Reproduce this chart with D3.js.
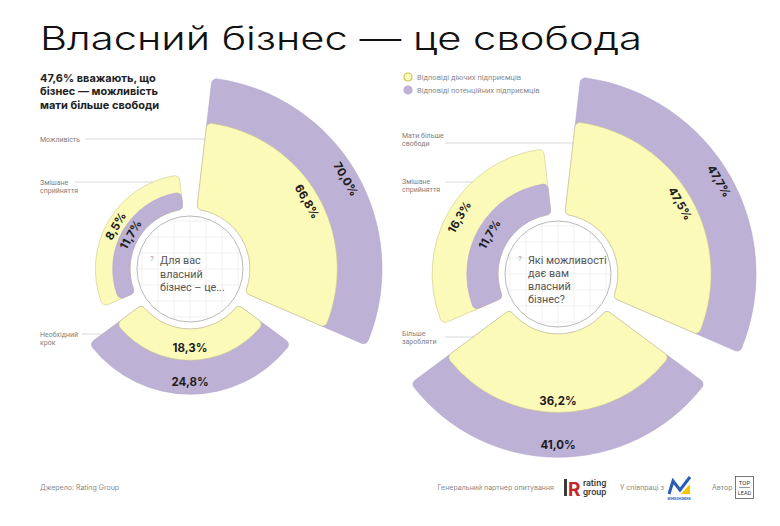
<!DOCTYPE html>
<html lang="uk">
<head>
<meta charset="utf-8">
<title>Власний бізнес — це свобода</title>
<script src="https://cdn.jsdelivr.net/npm/d3@7"></script>
<style>
  body { margin: 0; background: #fff; }
  text { font-family: Inter, "Noto Sans", sans-serif; }
</style>
</head>
<body>
<div id="container"></div>
<script>
// data
const leftCategories = ["Можливість", "Необхідний крок", "Змішане сприйняття"];
const leftActive = [66.8, 18.3, 8.5];
const leftPotential = [70.0, 24.8, 11.7];
const leftInner = ["active", "active", "potential"];   // which series sits next to the centre

const rightCategories = ["Мати більше свободи", "Більше заробляти", "Змішане сприйняття"];
const rightActive = [47.5, 36.2, 16.3];
const rightPotential = [47.7, 41.0, 11.7];
const rightInner = ["active", "active", "potential"];

const seriesKeys = ["active", "potential"];
const seriesNames = ["Відповіді діючих підприємців", "Відповіді потенційних підприємців"];

const width = 780, height = 526;
const fill = {active: "#fcfab9", potential: "#bdb1d5"};
const edge = {active: "#cdc78a", potential: "#b3a6cc"};
const r0 = 60;
const fmt = v => d3.format(".1f")(v).replace(".", ",") + "%";

const svg = d3.select("#container").append("svg")
  .attr("width", width).attr("height", height)
  .style("display", "block");

// multi-line text as one element
function lines(parent, x, y, rows, step) {
  const t = parent.append("text").attr("x", x).attr("y", y);
  rows.forEach((r, i) => t.append("tspan").attr("x", x).attr("y", y + i * step).text(r));
  return t;
}

svg.append("text")
  .attr("x", 40).attr("y", 50)
  .attr("textLength", 602).attr("lengthAdjust", "spacingAndGlyphs")
  .style("font", "300 32px Inter, sans-serif").attr("fill", "#111")
  .text("Власний бізнес — це свобода");

lines(svg, 40, 82, ["47,6% вважають, що", "бізнес — можливість", "мати більше свободи"], 13.4)
  .style("font", "700 11px Inter, sans-serif").attr("fill", "#222");

// legend
seriesKeys.forEach((k, i) => {
  svg.append("circle").attr("cx", 408).attr("cy", 77 + i * 13).attr("r", 4)
    .attr("fill", fill[k]).attr("stroke", k === "active" ? "#c9c25a" : fill[k]).attr("stroke-width", 1.2);
  svg.append("text").attr("x", 417).attr("y", 77 + i * 13).attr("dy", "0.35em")
    .style("font", "7.5px Roboto, sans-serif").attr("fill", "#8a8a8a").text(seriesNames[i]);
});

function drawChart(cfg) {
  const rows = cfg.categories.map((c, i) => {
    const a = {key: "active", v: cfg.active[i]}, p = {key: "potential", v: cfg.potential[i]};
    const [first, second] = cfg.inner[i] === "active" ? [a, p] : [p, a];
    return {cat: c, first, second, total: first.v + second.v};
  });

  const angle = d3.scaleBand().domain(cfg.categories)
    .range([0, 2 * Math.PI]).paddingInner(0.11).paddingOuter(0.055);
  const radius = d3.scalePow().exponent(0.37)
    .domain([0, d3.max(rows, d => d.total)]).range([0, cfg.rMax]);
  const arc = d3.arc().innerRadius(r0).cornerRadius(5);

  const g = svg.append("g").attr("transform", `translate(${cfg.cx},${cfg.cy})`);

  rows.forEach(d => {
    const a0 = angle(d.cat), a1 = a0 + angle.bandwidth();
    const rIn = radius(d.first.v), rOut = radius(d.total);
    g.append("path")
      .attr("d", arc({startAngle: a0, endAngle: a1, outerRadius: rOut}))
      .attr("fill", fill[d.second.key]).attr("stroke", edge[d.second.key]).attr("stroke-width", 0.6);
    g.append("path")
      .attr("d", arc({startAngle: a0, endAngle: a1, outerRadius: rIn}))
      .attr("fill", fill[d.first.key]).attr("stroke", edge[d.first.key]).attr("stroke-width", 0.6);

    const mid = (a0 + a1) / 2;
    let deg = mid * 180 / Math.PI;
    if (deg > 90 && deg < 270) deg -= 180;
    [[d.first, r0, rIn], [d.second, rIn, rOut]].forEach(([s, ri, ro]) => {
      const r = Math.max((ri + ro) / 2, ro - 12);
      g.append("text")
        .attr("transform", `translate(${r * Math.sin(mid)},${-r * Math.cos(mid)}) rotate(${deg})`)
        .attr("text-anchor", "middle").attr("dy", "0.36em")
        .style("font", "700 11.5px Inter, sans-serif").attr("fill", "#1c1c1c")
        .text(fmt(s.v));
    });
  });

  // centre circle with faint grid
  const clipId = "clip" + cfg.cx;
  g.append("clipPath").attr("id", clipId).append("circle").attr("r", 52);
  g.append("circle").attr("r", 53).attr("fill", "#fff").attr("stroke", "#b8b8b8").attr("stroke-width", 1);
  const grid = g.append("g").attr("clip-path", `url(#${clipId})`);
  d3.range(-64, 65, 16).forEach(v => {
    grid.append("line").attr("x1", v).attr("x2", v).attr("y1", -60).attr("y2", 60);
    grid.append("line").attr("y1", v).attr("y2", v).attr("x1", -60).attr("x2", 60);
  });
  grid.selectAll("line").attr("stroke", "#ececec").attr("stroke-width", 0.8);

  g.append("text").attr("x", -40).attr("y", cfg.qy - 3)
    .style("font", "8px Roboto, sans-serif").attr("fill", "#999").text("?");
  lines(g, -30, cfg.qy, cfg.question, cfg.qdy)
    .style("font", "400 10.8px Roboto, sans-serif").attr("fill", "#555");

  // category labels with leader lines
  const inside = (x, y) => {
    const px = x - cfg.cx, py = y - cfg.cy;
    const r = Math.hypot(px, py);
    let a = Math.atan2(px, -py);
    if (a < 0) a += 2 * Math.PI;
    return rows.some(d => {
      const a0 = angle(d.cat), a1 = a0 + angle.bandwidth();
      return r >= r0 && r <= radius(d.total) && a >= a0 && a <= a1;
    });
  };
  cfg.labels.forEach(l => {
    lines(svg, l.x, l.y + 2.5, l.lines, 8)
      .style("font", "7px Roboto, sans-serif").attr("fill", "#808080");
    let x = l.lineX;
    while (x < width && !inside(x, l.lineY)) x += 0.5;
    svg.append("line").attr("x1", l.lineX).attr("x2", x).attr("y1", l.lineY).attr("y2", l.lineY)
      .attr("stroke", "#c8c8c8").attr("stroke-width", 0.7);
  });
}

drawChart({
  categories: leftCategories, active: leftActive, potential: leftPotential, inner: leftInner,
  cx: 190, cy: 269, rMax: 192,
  question: ["Для вас", "власний", "бізнес – це..."], qy: -5, qdy: 13.5,
  labels: [
    {lines: ["Можливість"], x: 40, y: 139, lineY: 139, lineX: 85},
    {lines: ["Змішане", "сприйняття"], x: 40, y: 182, lineY: 182, lineX: 75},
    {lines: ["Необхідний", "крок"], x: 40, y: 334, lineY: 334, lineX: 82}
  ]
});

drawChart({
  categories: rightCategories, active: rightActive, potential: rightPotential, inner: rightInner,
  cx: 558, cy: 274, rMax: 198,
  question: ["Які можливості", "дає вам", "власний", "бізнес?"], qy: -10, qdy: 12.9,
  labels: [
    {lines: ["Мати більше", "свободи"], x: 402, y: 135, lineY: 143, lineX: 445},
    {lines: ["Змішане", "сприйняття"], x: 402, y: 181, lineY: 182, lineX: 445},
    {lines: ["Більше", "заробляти"], x: 402, y: 333, lineY: 337, lineX: 445}
  ]
});

// footer
const foot = svg.append("g").style("font", "7px Roboto, sans-serif").attr("fill", "#8a8a8a");
foot.append("text").attr("x", 40).attr("y", 490).text("Джерело: Rating Group");
foot.append("text").attr("x", 554).attr("y", 490).attr("text-anchor", "end").text("Генеральний партнер опитування");
svg.append("rect").attr("x", 564).attr("y", 479).attr("width", 3).attr("height", 17).attr("fill", "#3a3a3a");
svg.append("text").attr("x", 568).attr("y", 496)
  .style("font", "700 19px Inter, sans-serif").attr("fill", "#c4262e").text("R");
lines(svg, 583, 486, ["rating", "group"], 9)
  .style("font", "500 9px Roboto, sans-serif").attr("fill", "#333");
foot.append("text").attr("x", 620).attr("y", 490).text("У співпраці з");
svg.append("path").attr("d", "M669,494 L673,481 L680,490 L690,477")
  .attr("fill", "none").attr("stroke", "#2a5db0").attr("stroke-width", 3);
svg.append("path").attr("d", "M681,494 L690,484 L690,494 Z").attr("fill", "#f4c400");
svg.append("text").attr("x", 679).attr("y", 500).attr("text-anchor", "middle")
  .style("font", "700 3px Roboto, sans-serif").attr("fill", "#2a5db0").text("МІНЕКОНОМІКИ");
foot.append("text").attr("x", 712).attr("y", 490).text("Автор");
svg.append("rect").attr("x", 735.5).attr("y", 476.5).attr("width", 18).attr("height", 22)
  .attr("fill", "none").attr("stroke", "#555").attr("stroke-width", 0.8);
svg.append("text").attr("x", 744.5).attr("y", 485).attr("text-anchor", "middle")
  .style("font", "6px Roboto, sans-serif").attr("fill", "#333").text("TOP");
svg.append("line").attr("x1", 739).attr("x2", 750).attr("y1", 487.5).attr("y2", 487.5)
  .attr("stroke", "#555").attr("stroke-width", 0.6);
svg.append("text").attr("x", 744.5).attr("y", 495).attr("text-anchor", "middle")
  .style("font", "5.5px Roboto, sans-serif").attr("fill", "#333").text("LEAD");
</script>
</body>
</html>
